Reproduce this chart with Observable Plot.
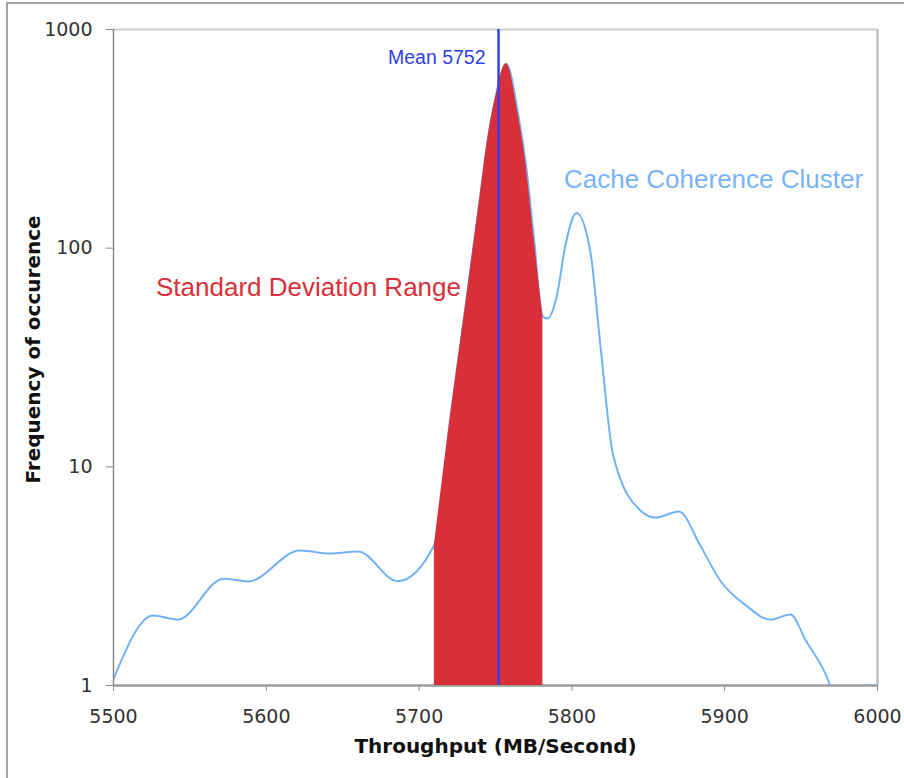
<!DOCTYPE html>
<html>
<head>
<meta charset="utf-8">
<script src="https://cdn.jsdelivr.net/npm/d3@7"></script>
<script src="https://cdn.jsdelivr.net/npm/@observablehq/plot@0.6"></script>
<style>
  html, body { margin: 0; padding: 0; background: #fff; overflow: hidden; }
  #wrap { position: relative; width: 904px; height: 778px; }
  #chart { position: absolute; left: 0; top: 0; }
  #border { position: absolute; left: 6px; top: 2px; width: 940px; height: 820px;
            border: 2px solid #a3a3a3; box-sizing: border-box; pointer-events: none; }
</style>
</head>
<body>
<div id="wrap"><div id="chart"></div><div id="border"></div></div>
<script>
// Throughput histogram (smoothed), MB/Second vs. frequency of occurrence
const throughput = [5500, 5526, 5542, 5572, 5588, 5622, 5642, 5660, 5686,
  5710, 5720, 5730, 5740, 5745, 5750, 5757, 5765, 5770, 5775, 5781,
  5784, 5790, 5796, 5803, 5812, 5819, 5827, 5845, 5855, 5870, 5884, 5897, 5914, 5930, 5943, 5953,
  5969, 5978, 5990, 6000];
const frequency = [1.07, 2.09, 2.0, 3.08, 2.99, 4.14, 4.01, 4.10, 3.0,
  4.4, 15.9, 52, 174, 317, 488, 698, 404, 239, 114, 48.7,
  47.7, 60, 105, 145, 97, 34, 11.3, 6.3, 5.86, 6.25, 4.37, 3.02, 2.32, 2.0, 2.11, 1.61,
  1.0, 0.6, 1.0, 1.0];

// One standard deviation around the mean
const meanThroughput = 5752;
const sdRange = [5710, 5781];

// Axes
const xDomain = [5500, 6000];
const yDomain = [1, 1000];
const xTicks = [5500, 5600, 5700, 5800, 5900, 6000];
const yTicks = [1, 10, 100, 1000];

// Annotation anchors (data units)
const sdLabel = {text: "Standard Deviation Range", x: 5627.6, y: 66};
const cacheLabel = {text: "Cache Coherence Cluster", x: 5892.7, y: 206};
const meanLabelY = 744;

const rows = throughput.map((x, i) => ({x, f: frequency[i]}));
const sdRows = rows.filter(d => d.x >= sdRange[0] && d.x <= sdRange[1]);

const sans = "Liberation Sans, Arial, sans-serif";

const chart = Plot.plot({
  width: 904,
  height: 778,
  marginLeft: 113,
  marginRight: 27,
  marginTop: 29,
  marginBottom: 93,
  style: {fontFamily: "DejaVu Sans, Verdana, sans-serif", fontSize: "19px", background: "transparent"},
  x: {domain: xDomain},
  y: {type: "log", domain: yDomain},
  marks: [
    Plot.ruleY([yDomain[1]], {stroke: "#cdcdcd", strokeWidth: 2}),
    Plot.ruleX([xDomain[1]], {stroke: "#c2c2c2", strokeWidth: 2.5}),
    Plot.ruleY([yDomain[0]], {stroke: "#9c9c9c", strokeWidth: 2.5}),
    Plot.line(rows, {x: "x", y: "f", curve: "monotone-x", stroke: "#72b1f7", strokeWidth: 2, clip: true}),
    Plot.areaY(sdRows, {x: "x", y1: yDomain[0], y2: "f", curve: "monotone-x", fill: "#d92f38"}),
    Plot.ruleX([meanThroughput], {stroke: "#3540e8", strokeWidth: 2.5}),
    Plot.ruleX([xDomain[0]], {stroke: "#8a8a8a", strokeWidth: 1.5}),
    Plot.axisX({ticks: xTicks, tickFormat: d3.format("d"), tickSize: 6, tickPadding: 18,
      stroke: "#8a8a8a", fill: "#333", label: null}),
    Plot.axisY({ticks: yTicks, tickFormat: d3.format("d"), tickSize: 7, tickPadding: 14,
      stroke: "#8a8a8a", fill: "#333", label: null}),
    Plot.text(["Throughput (MB/Second)"], {frameAnchor: "bottom", dy: 67, fontWeight: "bold",
      fontSize: 20, fill: "#111"}),
    Plot.text(["Frequency of occurence"], {frameAnchor: "left", textAnchor: "middle", dx: -80, dy: -8,
      rotate: -90, fontWeight: "bold", fontSize: 20, fill: "#111"}),
    Plot.text([sdLabel], {x: "x", y: "y", text: "text", fontFamily: sans, fontSize: 26, fill: "#d9303a"}),
    Plot.text([cacheLabel], {x: "x", y: "y", text: "text", fontFamily: sans, fontSize: 26, fill: "#7ab4f5"}),
    Plot.text([meanThroughput], {x: d => d, y: meanLabelY, text: d => `Mean ${d}`, textAnchor: "end",
      dx: -13, fontFamily: sans, fontSize: 19.5, fill: "#2f3fe8"})
  ]
});
document.getElementById("chart").append(chart);
</script>
</body>
</html>
